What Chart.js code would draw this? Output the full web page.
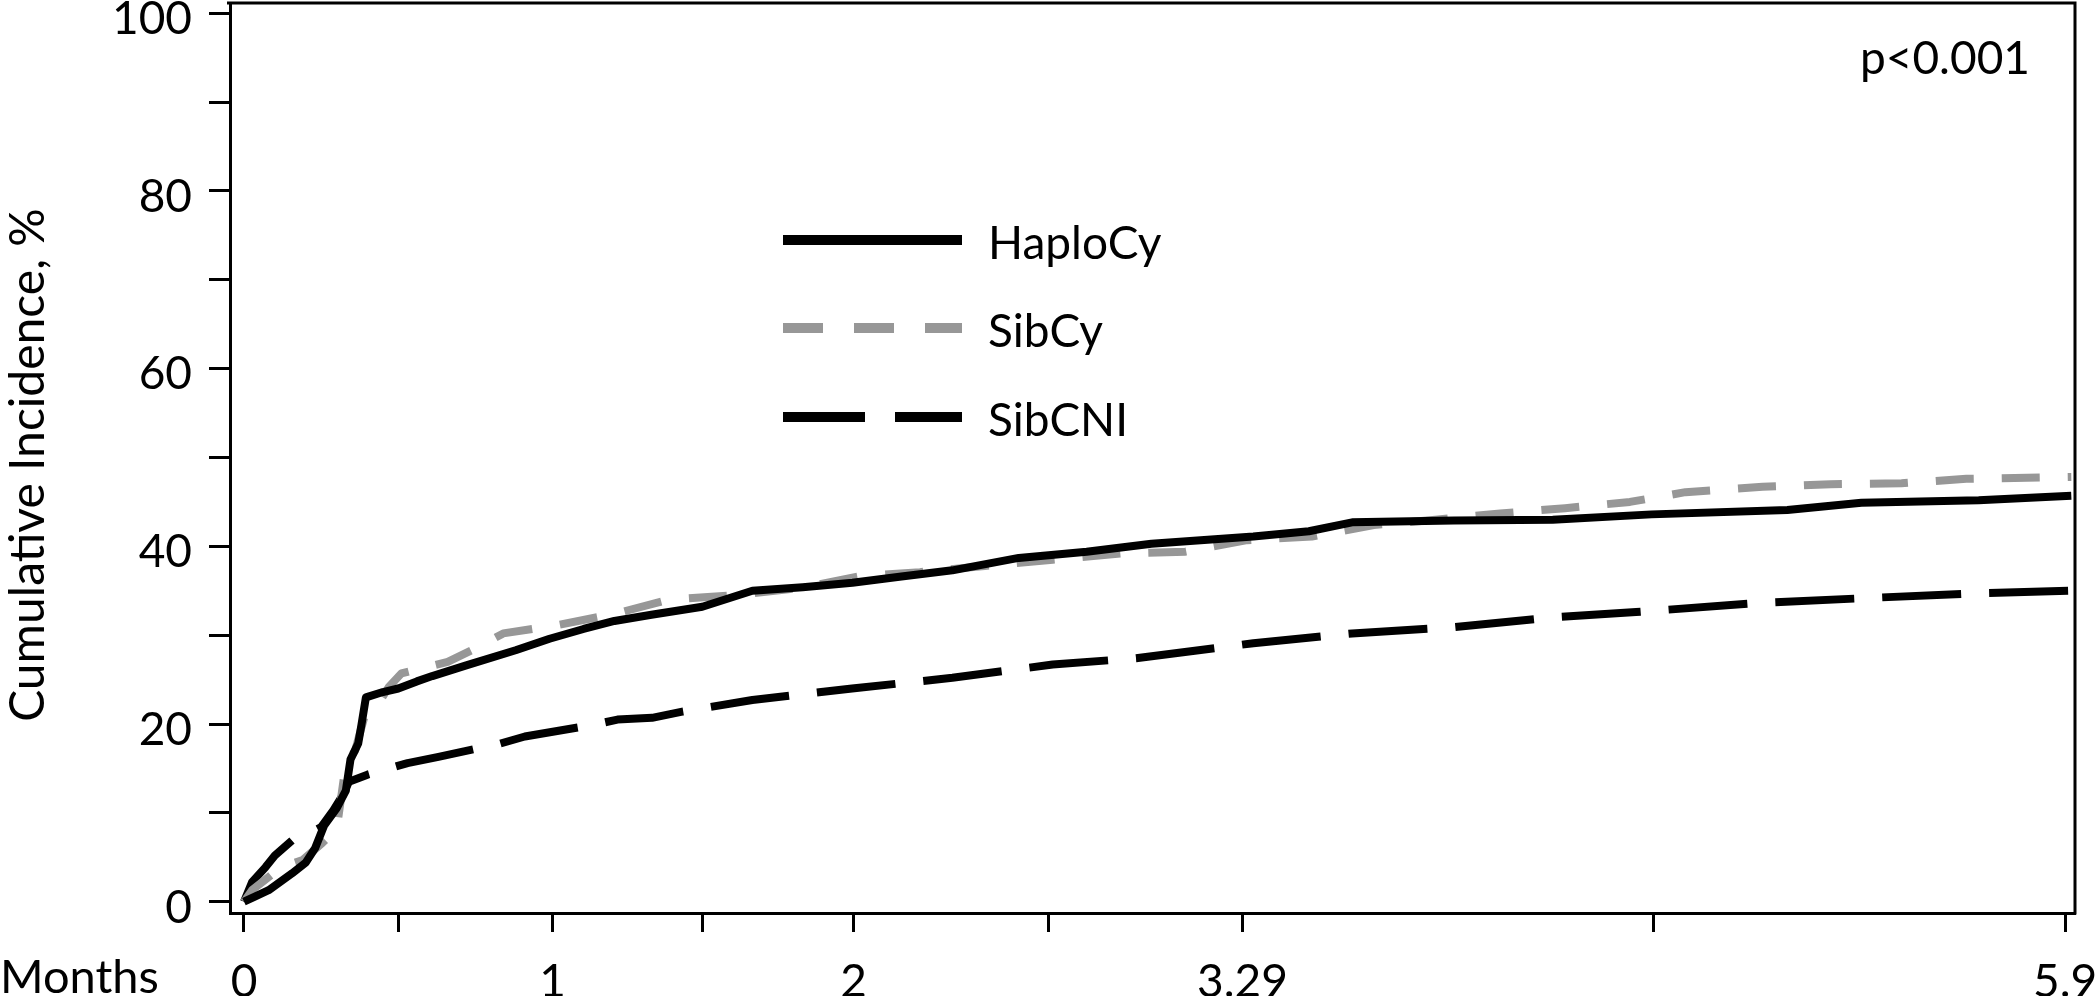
<!DOCTYPE html>
<html>
<head>
<meta charset="utf-8">
<script src="https://cdn.jsdelivr.net/npm/chart.js@4.4.1/dist/chart.umd.min.js"></script>
<style>
html,body{margin:0;padding:0;background:#fff;}
#wrap{width:2100px;height:996px;position:relative;}
canvas{display:block;}
</style>
</head>
<body>
<div id="wrap"><canvas id="c" width="2100" height="996" style="width:2100px;height:996px"></canvas></div>
<script>
// ---- data (months, cumulative incidence %) ----
const seriesNames = ['HaploCy', 'SibCy', 'SibCNI'];

const haploMonths = [0, 0.03, 0.08, 0.156, 0.2, 0.23, 0.26, 0.3, 0.33, 0.345, 0.37, 0.38, 0.395, 0.45, 0.5, 0.56, 0.61, 0.72, 0.88, 0.99, 1.1, 1.2, 1.32, 1.485, 1.647, 1.81, 1.971, 2.13, 2.295, 2.51, 2.73, 2.94, 3.27, 3.45, 3.59, 3.92, 4.24, 4.56, 5.0, 5.24, 5.62, 5.92];
const haploValues = [0, 0.5, 1.3, 3.2, 4.4, 6.0, 8.6, 10.5, 12.5, 16.0, 17.8, 19.8, 23.0, 23.6, 24.0, 24.8, 25.4, 26.6, 28.3, 29.6, 30.7, 31.6, 32.3, 33.2, 35.0, 35.4, 35.9, 36.6, 37.3, 38.7, 39.4, 40.3, 41.1, 41.7, 42.7, 42.9, 43.0, 43.6, 44.1, 44.9, 45.2, 45.7];

const sibCyMonths = [0, 0.026, 0.12, 0.19, 0.25, 0.3, 0.33, 0.36, 0.39, 0.43, 0.47, 0.51, 0.66, 0.75, 0.84, 1.01, 1.2, 1.377, 1.59, 1.8, 1.99, 2.19, 2.4, 2.62, 2.84, 3.05, 3.25, 3.46, 3.66, 3.86, 4.07, 4.28, 4.49, 4.67, 4.92, 5.14, 5.37, 5.58, 5.92];
const sibCyValues = [0, 1.3, 3.9, 4.7, 6.5, 8.1, 15.5, 17.0, 20.8, 22.0, 24.2, 25.7, 27.0, 28.5, 30.2, 31.1, 32.4, 34.0, 34.5, 35.3, 36.6, 37.1, 37.8, 38.5, 39.2, 39.4, 40.7, 41.1, 42.4, 43.0, 43.7, 44.3, 45.0, 46.1, 46.7, 47.0, 47.1, 47.6, 47.8];

const sibCniMonths = [0, 0.026, 0.07, 0.1, 0.156, 0.21, 0.25, 0.29, 0.32, 0.34, 0.4, 0.53, 0.63, 0.83, 0.91, 1.13, 1.21, 1.322, 1.42, 1.647, 1.97, 2.295, 2.62, 2.89, 3.27, 3.59, 3.92, 4.24, 4.51, 4.89, 5.27, 5.6, 5.92];
const sibCniValues = [0, 2.2, 3.9, 5.2, 6.9, 7.7, 8.4, 10.3, 12.0, 13.5, 14.3, 15.6, 16.3, 17.8, 18.6, 19.9, 20.5, 20.7, 21.4, 22.7, 24.0, 25.2, 26.7, 27.4, 29.1, 30.2, 30.9, 32.0, 32.6, 33.6, 34.2, 34.7, 35.0];

// ---- tick labels ----
const xTickValues = [0, 0.5, 1, 1.485, 1.975, 2.605, 3.235, 4.565, 5.9];
const xTickLabels = ['0', '', '1', '', '2', '', '3.29', '', '5.9'];
const yTickValues = [0, 10, 20, 30, 40, 50, 60, 70, 80, 90, 100];
const yTickLabels = ['0', '', '20', '', '40', '', '60', '', '80', '', '100'];

const xAxisLabel = 'Months';
const yAxisTitle = 'Cumulative Incidence, %';
const pValueText = 'p<0.001';

const FONT = 'Lato';
const toPts = (xs, ys) => xs.map((x, i) => ({x: x, y: ys[i]}));

const annot = {
  id: 'annot',
  beforeDatasetsDraw(chart) {
    const {ctx, chartArea: a} = chart;
    ctx.save();
    ctx.strokeStyle = '#000';
    ctx.lineWidth = 3;
    ctx.beginPath();
    ctx.moveTo(a.left - 3, a.top);
    ctx.lineTo(a.right, a.top);
    ctx.lineTo(a.right, a.bottom + 1.5);
    ctx.stroke();
    ctx.restore();
  },
  afterDraw(chart) {
    const {ctx} = chart;
    ctx.save();
    // legend
    const rows = [240, 328, 417];
    chart.data.datasets.forEach((ds, i) => {
      const y = rows[i];
      ctx.strokeStyle = ds.borderColor;
      ctx.lineWidth = 10;
      ctx.lineCap = 'butt';
      ctx.setLineDash(ds.legendDash || []);
      ctx.beginPath();
      ctx.moveTo(783, y);
      ctx.lineTo(962, y);
      ctx.stroke();
      ctx.setLineDash([]);
      ctx.fillStyle = '#000';
      ctx.font = '46px ' + FONT;
      ctx.textAlign = 'left';
      ctx.textBaseline = 'alphabetic';
      ctx.fillText(ds.label, 988, y + 19);
    });
    // p-value
    ctx.font = '46px ' + FONT;
    ctx.textAlign = 'right';
    ctx.fillText(pValueText, 2030, 74);
    // Months label
    ctx.textAlign = 'left';
    ctx.font = '47px ' + FONT;
    ctx.fillText(xAxisLabel, 0, 993);
    // y title
    ctx.translate(44, 465);
    ctx.rotate(-Math.PI / 2);
    ctx.textAlign = 'center';
    ctx.font = '48px ' + FONT;
    ctx.fillText(yAxisTitle, 0, 0);
    ctx.restore();
  }
};

new Chart(document.getElementById('c'), {
  type: 'line',
  data: {
    datasets: [
      {label: seriesNames[0], data: toPts(haploMonths, haploValues), borderColor: '#000000', borderWidth: 8, borderDash: [], legendDash: []},
      {label: seriesNames[1], data: toPts(sibCyMonths, sibCyValues), borderColor: '#979797', borderWidth: 8, borderDash: [38, 28], legendDash: [40, 31]},
      {label: seriesNames[2], data: toPts(sibCniMonths, sibCniValues), borderColor: '#000000', borderWidth: 8, borderDash: [79, 28], legendDash: [82, 30]}
    ]
  },
  options: {
    responsive: false,
    animation: false,
    devicePixelRatio: 1,
    layout: {padding: {top: 3, right: 25, left: 0, bottom: 0}},
    elements: {
      point: {radius: 0, hoverRadius: 0},
      line: {tension: 0, fill: false, borderCapStyle: 'butt', borderJoinStyle: 'round'}
    },
    plugins: {legend: {display: false}, tooltip: {enabled: false}, title: {display: false}},
    scales: {
      x: {
        type: 'linear',
        min: -0.0453,
        max: 5.932,
        afterBuildTicks: s => { s.ticks = xTickValues.map(v => ({value: v})); },
        afterFit: s => { s.height = 83; s.paddingLeft = 0; s.paddingRight = 0; },
        ticks: {
          autoSkip: false, maxRotation: 0, minRotation: 0,
          color: '#000', font: {family: FONT, size: 46}, padding: 23,
          callback: (v, i) => xTickLabels[i]
        },
        grid: {display: true, drawOnChartArea: false, drawTicks: true, tickLength: 19, tickWidth: 3, tickColor: '#000'},
        border: {display: true, color: '#000', width: 3}
      },
      y: {
        type: 'linear',
        min: -1.27,
        max: 101.16,
        afterBuildTicks: s => { s.ticks = yTickValues.map(v => ({value: v})); },
        afterFit: s => { s.width = 230; s.paddingTop = 0; s.paddingBottom = 0; },
        ticks: {
          autoSkip: false, color: '#000', font: {family: FONT, size: 46}, padding: 17, labelOffset: 6,
          callback: (v, i) => yTickLabels[i]
        },
        grid: {display: true, drawOnChartArea: false, drawTicks: true, tickLength: 21, tickWidth: 3, tickColor: '#000'},
        border: {display: true, color: '#000', width: 3}
      }
    }
  },
  plugins: [annot]
});
</script>
</body>
</html>
